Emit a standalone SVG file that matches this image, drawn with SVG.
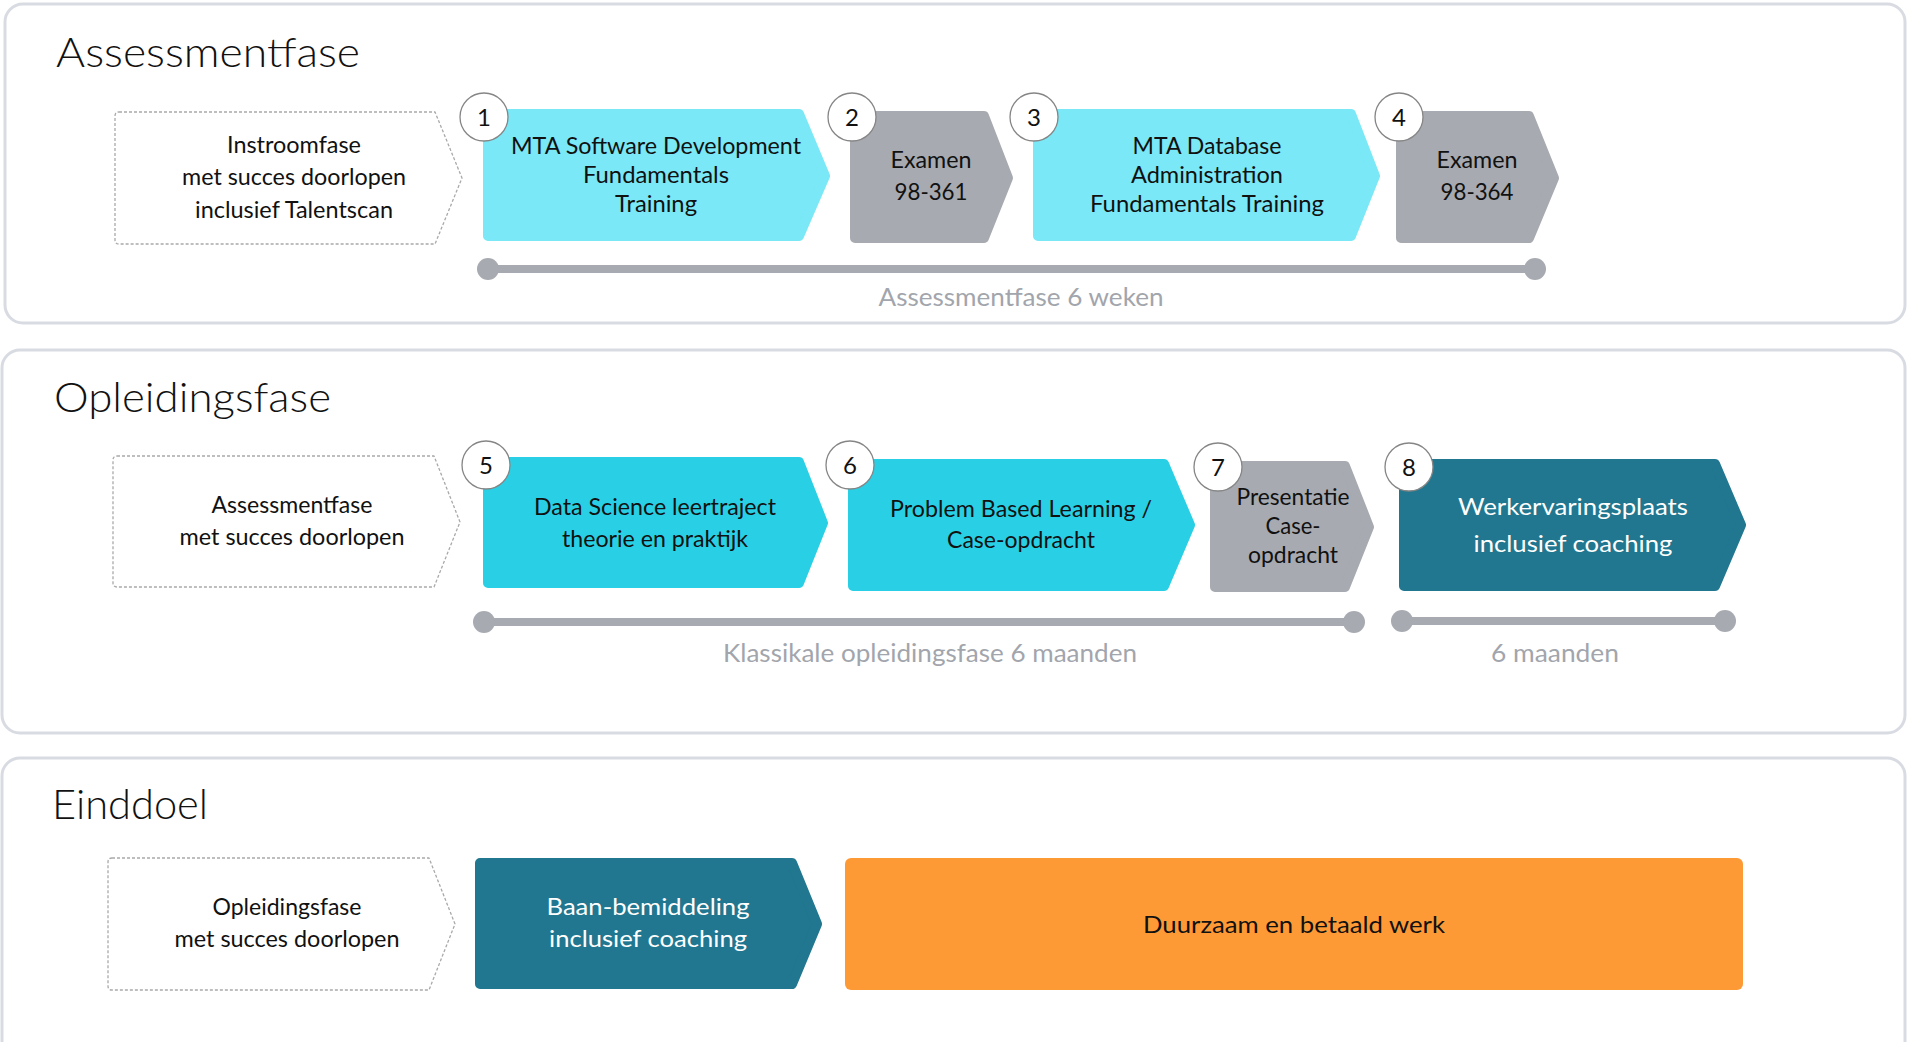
<svg xmlns="http://www.w3.org/2000/svg" width="1910" height="1042" viewBox="0 0 1910 1042">
<style>
.panel{fill:#ffffff;stroke:#D9DBE3;stroke-width:3}
.title{font-family:Lato,"Open Sans",sans-serif;font-weight:300;font-size:42px;fill:#111}
.t{font-family:Lato,"Open Sans",sans-serif;font-size:24px;fill:#111;text-anchor:middle}
.tw{fill:#ffffff}
.lbl{font-family:Lato,"Open Sans",sans-serif;font-size:25px;fill:#A2A5AC;text-anchor:middle}
.num{font-family:Lato,"Open Sans",sans-serif;font-size:24px;fill:#111;text-anchor:middle}
.dash{fill:#ffffff;stroke:#A9A9A9;stroke-width:1.3;stroke-dasharray:3 2;stroke-linejoin:round}
.lc{fill:#7AE8F6;stroke:#7AE8F6;stroke-width:10;stroke-linejoin:round}
.cy{fill:#29D0E5;stroke:#29D0E5;stroke-width:10;stroke-linejoin:round}
.gr{fill:#A7AAB0;stroke:#A7AAB0;stroke-width:10;stroke-linejoin:round}
.dk{fill:#20778F;stroke:#20778F;stroke-width:10;stroke-linejoin:round}
.or{fill:#FE9A36}
.circ{fill:#ffffff;stroke:#858585;stroke-width:1.3}
.tl{stroke:#A7AAB0;stroke-width:8;fill:none}
.dot{fill:#A7AAB0}
</style>

<g id="panel-assessment">
<rect class="panel" x="5" y="4" width="1900" height="319" rx="18"/>
<text class="title" x="56" y="67" textLength="304" lengthAdjust="spacingAndGlyphs">Assessmentfase</text>
</g>
<g id="panel-opleiding">
<rect class="panel" x="2" y="350" width="1903" height="383" rx="18"/>
<text class="title" x="54" y="412" textLength="277" lengthAdjust="spacingAndGlyphs">Opleidingsfase</text>
</g>
<g id="panel-einddoel">
<rect class="panel" x="2" y="758" width="1903" height="320" rx="18"/>
<text class="title" x="52" y="819" textLength="156" lengthAdjust="spacingAndGlyphs">Einddoel</text>
</g>

<g id="connectors">
<line class="tl" x1="488" y1="269" x2="1535" y2="269"/>
<circle class="dot" cx="488" cy="269" r="11"/>
<circle class="dot" cx="1535" cy="269" r="11"/>
<line class="tl" x1="484" y1="622" x2="1354" y2="622"/>
<circle class="dot" cx="484" cy="622" r="11"/>
<circle class="dot" cx="1354" cy="622" r="11"/>
<line class="tl" x1="1402" y1="621" x2="1725" y2="621"/>
<circle class="dot" cx="1402" cy="621" r="11"/>
<circle class="dot" cx="1725" cy="621" r="11"/>
</g>

<g id="timeline-labels">
<text class="lbl" x="1021" y="306" textLength="285" lengthAdjust="spacingAndGlyphs">Assessmentfase 6 weken</text>
<text class="lbl" x="930" y="662" textLength="414" lengthAdjust="spacingAndGlyphs">Klassikale opleidingsfase 6 maanden</text>
<text class="lbl" x="1555" y="662" textLength="128" lengthAdjust="spacingAndGlyphs">6 maanden</text>
</g>

<!-- Row 1 -->
<g id="node-instroom">
<path class="dash" d="M119,112 H435 L462,178 L435,244 H119 Q115,244 115,240 V116 Q115,112 119,112 Z"/>
<text class="t" x="294" y="153" textLength="134" lengthAdjust="spacingAndGlyphs">Instroomfase</text>
<text class="t" x="294" y="185" textLength="224" lengthAdjust="spacingAndGlyphs">met succes doorlopen</text>
<text class="t" x="294" y="218" textLength="198" lengthAdjust="spacingAndGlyphs">inclusief Talentscan</text>
</g>
<g id="node-1">
<polygon class="lc" points="488,114 799,114 825,176 799,236 488,236"/>
<text class="t" x="656" y="154" textLength="290" lengthAdjust="spacingAndGlyphs">MTA Software Development</text>
<text class="t" x="656" y="183" textLength="146" lengthAdjust="spacingAndGlyphs">Fundamentals</text>
<text class="t" x="656" y="212" textLength="82" lengthAdjust="spacingAndGlyphs">Training</text>
<circle class="circ" cx="484" cy="117" r="24"/>
<text class="num" x="484" y="126">1</text>
</g>
<g id="node-2">
<polygon class="gr" points="855,116 984,116 1008,178 984,238 855,238"/>
<text class="t" x="931" y="168" textLength="81" lengthAdjust="spacingAndGlyphs">Examen</text>
<text class="t" x="931" y="200" textLength="73" lengthAdjust="spacingAndGlyphs">98-361</text>
<circle class="circ" cx="852" cy="117" r="24"/>
<text class="num" x="852" y="126">2</text>
</g>
<g id="node-3">
<polygon class="lc" points="1038,114 1351,114 1375,176 1351,236 1038,236"/>
<text class="t" x="1207" y="154" textLength="149" lengthAdjust="spacingAndGlyphs">MTA Database</text>
<text class="t" x="1207" y="183" textLength="152" lengthAdjust="spacingAndGlyphs">Administration</text>
<text class="t" x="1207" y="212" textLength="234" lengthAdjust="spacingAndGlyphs">Fundamentals Training</text>
<circle class="circ" cx="1034" cy="117" r="24"/>
<text class="num" x="1034" y="126">3</text>
</g>
<g id="node-4">
<polygon class="gr" points="1401,116 1529,116 1554,178 1529,238 1401,238"/>
<text class="t" x="1477" y="168" textLength="81" lengthAdjust="spacingAndGlyphs">Examen</text>
<text class="t" x="1477" y="200" textLength="73" lengthAdjust="spacingAndGlyphs">98-364</text>
<circle class="circ" cx="1399" cy="117" r="24"/>
<text class="num" x="1399" y="126">4</text>
</g>

<!-- Row 2 -->
<g id="node-assessment-done">
<path class="dash" d="M117,456 H434 L460,522 L434,587 H117 Q113,587 113,583 V460 Q113,456 117,456 Z"/>
<text class="t" x="292" y="513" textLength="161" lengthAdjust="spacingAndGlyphs">Assessmentfase</text>
<text class="t" x="292" y="545" textLength="225" lengthAdjust="spacingAndGlyphs">met succes doorlopen</text>
</g>
<g id="node-5">
<polygon class="cy" points="488,462 799,462 823,523 799,583 488,583"/>
<text class="t" x="655" y="515" textLength="242" lengthAdjust="spacingAndGlyphs">Data Science leertraject</text>
<text class="t" x="655" y="547" textLength="186" lengthAdjust="spacingAndGlyphs">theorie en praktijk</text>
<circle class="circ" cx="486" cy="465" r="24"/>
<text class="num" x="486" y="474">5</text>
</g>
<g id="node-6">
<polygon class="cy" points="853,464 1164,464 1190,525 1164,586 853,586"/>
<text class="t" x="1021" y="517" textLength="262" lengthAdjust="spacingAndGlyphs">Problem Based Learning /</text>
<text class="t" x="1021" y="548" textLength="148" lengthAdjust="spacingAndGlyphs">Case-opdracht</text>
<circle class="circ" cx="850" cy="465" r="24"/>
<text class="num" x="850" y="474">6</text>
</g>
<g id="node-7">
<polygon class="gr" points="1215,466 1345,466 1369,527 1345,587 1215,587"/>
<text class="t" x="1293" y="505" textLength="113" lengthAdjust="spacingAndGlyphs">Presentatie</text>
<text class="t" x="1293" y="534" textLength="55" lengthAdjust="spacingAndGlyphs">Case-</text>
<text class="t" x="1293" y="563" textLength="90" lengthAdjust="spacingAndGlyphs">opdracht</text>
<circle class="circ" cx="1218" cy="467" r="24"/>
<text class="num" x="1218" y="476">7</text>
</g>
<g id="node-8">
<polygon class="dk" points="1404,464 1715,464 1741,525 1715,586 1404,586"/>
<text class="t tw" x="1573" y="515" textLength="230" lengthAdjust="spacingAndGlyphs">Werkervaringsplaats</text>
<text class="t tw" x="1573" y="552" textLength="199" lengthAdjust="spacingAndGlyphs">inclusief coaching</text>
<circle class="circ" cx="1409" cy="467" r="24"/>
<text class="num" x="1409" y="476">8</text>
</g>

<!-- Row 3 -->
<g id="node-opleiding-done">
<path class="dash" d="M112,858 H429 L455,924 L429,990 H112 Q108,990 108,986 V862 Q108,858 112,858 Z"/>
<text class="t" x="287" y="915" textLength="149" lengthAdjust="spacingAndGlyphs">Opleidingsfase</text>
<text class="t" x="287" y="947" textLength="225" lengthAdjust="spacingAndGlyphs">met succes doorlopen</text>
</g>
<g id="node-baan">
<polygon class="dk" points="480,863 792,863 817,924 792,984 480,984"/>
<text class="t tw" x="648" y="915" textLength="203" lengthAdjust="spacingAndGlyphs">Baan-bemiddeling</text>
<text class="t tw" x="648" y="947" textLength="198" lengthAdjust="spacingAndGlyphs">inclusief coaching</text>
</g>
<g id="node-werk">
<rect class="or" x="845" y="858" width="898" height="132" rx="6"/>
<text class="t" x="1294" y="933" textLength="302" lengthAdjust="spacingAndGlyphs">Duurzaam en betaald werk</text>
</g>
</svg>
